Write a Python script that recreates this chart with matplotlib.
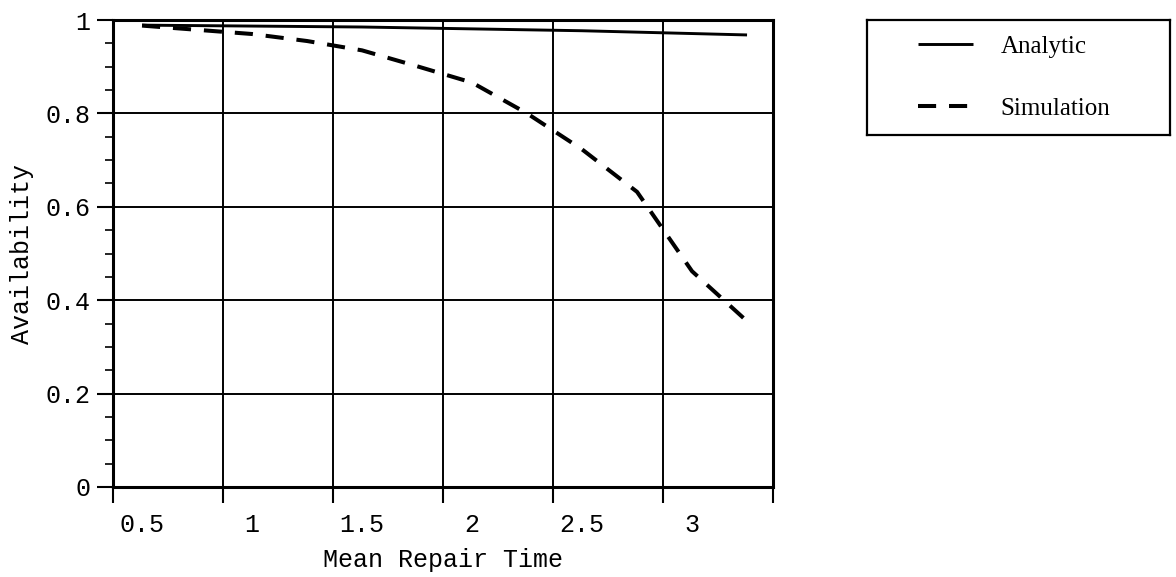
import matplotlib
matplotlib.use("Agg")
import matplotlib.pyplot as plt
import numpy as np

# Mean repair time values and the two availability curves
repair_time = [0.5, 0.75, 1.0, 1.25, 1.5, 1.75, 2.0, 2.25, 2.5, 2.75, 3.0, 3.25]
analytic = [0.989, 0.988, 0.987, 0.986, 0.985, 0.983, 0.981, 0.979, 0.977, 0.974, 0.971, 0.968]
simulation = [0.988, 0.979, 0.970, 0.955, 0.935, 0.901, 0.866, 0.800, 0.723, 0.632, 0.462, 0.355]

x_tick_values = [0.5, 1, 1.5, 2, 2.5, 3]
x_tick_labels = ["0.5", "1", "1.5", "2", "2.5", "3"]
y_tick_values = [0, 0.2, 0.4, 0.6, 0.8, 1.0]
y_tick_labels = ["0", "0.2", "0.4", "0.6", "0.8", "1"]
series_names = ["Analytic", "Simulation"]

# grid/tick marks sit slightly left of the printed labels
label_shift = 0.132
grid_x = [v - label_shift for v in [0.5, 1, 1.5, 2, 2.5, 3, 3.5]]

mono = "Liberation Mono"
serif = "Liberation Serif"

fig = plt.figure(figsize=(11.76, 5.77), dpi=100)
ax = fig.add_axes([113 / 1176, 1 - 487 / 577, 660 / 1176, 467 / 577])

l1, = ax.plot(repair_time, analytic, color="black", lw=2.1, solid_capstyle="butt")
l2, = ax.plot(repair_time, simulation, color="black", lw=2.9,
              linestyle=(0, (4.5, 3.2)))

ax.set_xlim(grid_x[0], grid_x[-1])
ax.set_ylim(0, 1)

# x: labels on major ticks (no marks), marks + grid on minor ticks
ax.set_xticks(x_tick_values)
ax.set_xticklabels(x_tick_labels, fontfamily=mono, fontsize=18)
ax.set_xticks(grid_x, minor=True)
ax.tick_params(axis="x", which="major", length=0, pad=19)
ax.tick_params(axis="x", which="minor", length=11.5, width=1.5, direction="out")

ax.set_yticks(y_tick_values)
ax.set_yticklabels(y_tick_labels, fontfamily=mono, fontsize=18)
ax.set_yticks(np.arange(0, 1.0001, 0.05), minor=True)
ax.tick_params(axis="y", which="major", length=11.5, width=1.5, direction="out", pad=5)
ax.tick_params(axis="y", which="minor", length=6, width=1.2, direction="out")

ax.grid(True, axis="x", which="minor", color="black", lw=1.4)
ax.grid(True, axis="y", which="major", color="black", lw=1.4)
ax.grid(False, axis="x", which="major")
ax.set_axisbelow(True)

for s in ax.spines.values():
    s.set_linewidth(2.2)

ax.set_xlabel("Mean Repair Time", fontfamily=mono, fontsize=18, labelpad=8)
ax.set_ylabel("Availability", fontfamily=mono, fontsize=18, labelpad=8)

# legend box
lax = fig.add_axes([867 / 1176, 1 - 135 / 577, 303 / 1176, 115 / 577])
lax.set_xticks([])
lax.set_yticks([])
for s in lax.spines.values():
    s.set_linewidth(1.6)
lax.legend([l1, l2], series_names, loc="center left", frameon=False,
           prop={"family": serif, "size": 18}, handlelength=2.2,
           handletextpad=1.1, labelspacing=1.6, borderaxespad=0,
           bbox_to_anchor=(41 / 303, 0.5))

fig.savefig("out.png", dpi=100)
